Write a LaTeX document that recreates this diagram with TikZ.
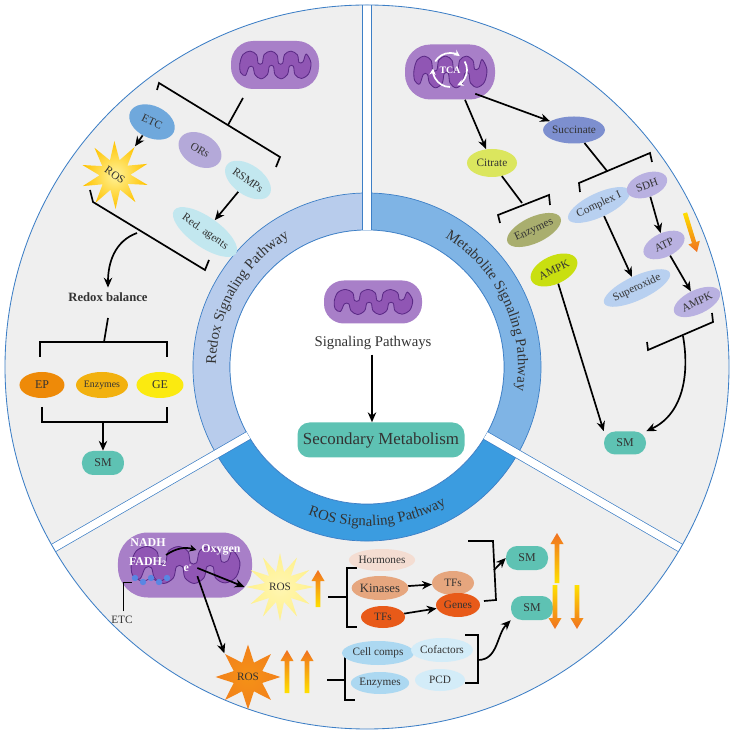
\documentclass[tikz,border=0pt]{standalone}
\usepackage{fontspec}
\setmainfont{Liberation Serif}
\usetikzlibrary{shapes.geometric,arrows.meta,calc,decorations.text}
\definecolor{bgGray}{HTML}{EFEFEF}
\definecolor{ringLine}{HTML}{3D7FC6}
\definecolor{bandL}{HTML}{B8CCEC}
\definecolor{bandR}{HTML}{7FB4E5}
\definecolor{bandB}{HTML}{3B9CE0}
\definecolor{mitoOut}{HTML}{A87FC8}
\definecolor{mitoIn}{HTML}{9056B4}
\definecolor{mitoLine}{HTML}{5B2A86}
\definecolor{cETC}{HTML}{6FA8DC}
\definecolor{cOR}{HTML}{B4A9D9}
\definecolor{cCy}{HTML}{C2E7EF}
\definecolor{cEP}{HTML}{EE8A08}
\definecolor{cEnzY}{HTML}{F2B10F}
\definecolor{cGE}{HTML}{FBEA10}
\definecolor{cTeal}{HTML}{5EC2B3}
\definecolor{cSucc}{HTML}{7D8FCF}
\definecolor{cCit}{HTML}{DBE65E}
\definecolor{cEnzO}{HTML}{A9AE6E}
\definecolor{cAMPK}{HTML}{C9DF10}
\definecolor{cCx}{HTML}{B8D0F0}
\definecolor{cLav}{HTML}{B9B1E1}
\definecolor{cHorm}{HTML}{F4DDD2}
\definecolor{cKin}{HTML}{E6A67E}
\definecolor{cTF}{HTML}{E85A19}
\definecolor{cCell}{HTML}{ACD8F1}
\definecolor{cCof}{HTML}{D3ECF8}
\definecolor{gY}{HTML}{FFE000}
\definecolor{gO}{HTML}{F07020}
\definecolor{txt}{HTML}{333333}

% inner membrane of a mitochondrion node: #1 node, #2 half width, #3 half height
\newcommand\cristae[3]{%
  \begin{scope}[shift={(#1.center)}, xscale=#2, yscale=#3]
  \draw[cristae] plot[smooth cycle, tension=0.55] coordinates {
    (-0.88,0.05) (-0.8,0.5) (-0.62,0.66) (-0.46,0.48) (-0.42,0.08) (-0.32,0.08)
    (-0.27,0.5) (-0.1,0.66) (0.05,0.48) (0.09,0.08) (0.19,0.08) (0.24,0.5)
    (0.4,0.66) (0.56,0.48) (0.6,0.12) (0.7,0.15) (0.78,0.52) (0.9,0.1)
    (0.84,-0.42) (0.66,-0.64) (0.5,-0.46) (0.46,-0.06) (0.36,-0.06) (0.31,-0.46)
    (0.15,-0.66) (0,-0.46) (-0.04,-0.06) (-0.14,-0.06) (-0.19,-0.46) (-0.35,-0.66)
    (-0.5,-0.46) (-0.55,-0.1) (-0.65,-0.1) (-0.74,-0.5) (-0.86,-0.36)};
  \end{scope}}
\newcommand\garrUp[3]{% x, bottom y, top y
  \shade[top color=gO, bottom color=gY] (#1-2.3,#2) -- (#1-2.3,#3-11) -- (#1-6.5,#3-11)
    -- (#1,#3) -- (#1+6.5,#3-11) -- (#1+2.3,#3-11) -- (#1+2.3,#2) -- cycle;}
\newcommand\garrDn[3]{% x, top y, bottom y
  \shade[top color=gY, bottom color=gO] (#1-2.3,#2) -- (#1-2.3,#3+11) -- (#1-6.5,#3+11)
    -- (#1,#3) -- (#1+6.5,#3+11) -- (#1+2.3,#3+11) -- (#1+2.3,#2) -- cycle;}

\begin{document}
\begin{tikzpicture}[x=0.025cm,y=0.025cm,
  every node/.style={font=\fontsize{8}{9.5}\selectfont, text=txt},
  el/.style n args={3}{ellipse, inner sep=0pt, minimum width=#1*0.025cm,
    minimum height=#2*0.025cm, fill=#3},
  pill/.style n args={2}{rectangle, rounded corners=0.28cm, fill=cTeal, inner sep=0pt,
    minimum width=#1*0.025cm, minimum height=#2*0.025cm},
  mito/.style n args={2}{rectangle, rounded corners=#2*0.0115cm, fill=mitoOut, inner sep=0pt,
    minimum width=#1*0.025cm, minimum height=#2*0.025cm},
  cristae/.style={draw=mitoLine, line width=0.6pt, fill=mitoIn},
  arr/.style={line width=1.2pt, -{Stealth[length=7pt,width=6pt]}},
  br/.style={line width=1.2pt},
  wtext/.style={text=white, font=\fontsize{8.5}{10}\selectfont\bfseries},
  ringtxt/.style={decorate, decoration={text along path, text align=center,
    text={|\fontsize{10.5}{12}\selectfont\color{txt}|#1}}}
]
\useasboundingbox (-367,-367) rectangle (367,367);

% ---- background disk, ring, gaps
\begin{scope}
  \clip (0,0) circle[radius=362];
  \fill[bgGray] (0,0) circle[radius=362];
  \foreach \a/\b/\c in {90/210/bandL, -30/90/bandR, 210/330/bandB}
    \filldraw[fill=\c, draw=ringLine, line width=0.5pt] (\a:137) arc[start angle=\a, end angle=\b, radius=137]
      -- (\b:174) arc[start angle=\b, end angle=\a, radius=174] -- cycle;
  \filldraw[fill=white, draw=ringLine, line width=0.5pt] (0,0) circle[radius=137];
  \foreach \a in {90,210,330}
    \draw[draw=ringLine, line width=0.5pt, double=white, double distance=0.19cm] (\a:137) -- (\a:380);
\end{scope}
\draw[ringLine, line width=0.6pt] (0,0) circle[radius=362];

\path[ringtxt={Redox Signaling Pathway}] (210:151) arc[start angle=210, end angle=90, radius=151];
\path[ringtxt={Metabolite Signaling Pathway}] (85:151) arc[start angle=85, end angle=-35, radius=151];
\path[ringtxt={ROS Signaling Pathway}] (214:159) arc[start angle=214, end angle=334, radius=159];

% ---- centre
\node[mito={98}{43}] (m0) at (6,65) {};
\cristae{m0}{44}{19}
\node[font=\fontsize{10.5}{12}\selectfont] (sp) at (6,24) {Signaling Pathways};
\node[rectangle, rounded corners=0.3cm, fill=cTeal, minimum width=167*0.025cm,
  minimum height=35*0.025cm, font=\fontsize{12}{14}\selectfont] (secm) at (14,-73) {Secondary Metabolism};
\draw[arr] (sp.south -| 5,0) -- (secm.north -| 5,0);

% ---- Redox sector
\node[mito={88}{48}] (m1) at (-92,302) {};
\cristae{m1}{40}{21}
\node[el={48}{32}{cETC}, rotate=-25] (etc) at (-215,245) {ETC};
\node[el={46}{32}{cOR}, rotate=-30] (ors) at (-167,217) {ORs};
\node[el={52}{30}{cCy}, rotate=-35] (rsmp) at (-119,187) {RSMPs};
\node[el={58}{30}{cCy}, rotate=-35] (red) at (-162,135) {Red. agents};
\node[star, star points=10, star point ratio=2.2, inner sep=0pt, minimum size=1.45cm,
  inner color=white!60!gY, outer color=gY!70!orange, rotate=-35] (rosL) at (-252,192) {ROS};
\coordinate (b1s) at (-124,269);
\draw[br] (-210,277) -- (-208,284) -- (-87,210) -- (-91,200);
\draw[br] (b1s) -- (-139,242);
\draw[arr] (etc) -- (rosL);
\draw[arr] (rsmp) -- (red);
\draw[br] (-277,177) -- (-274,165) -- (-162,97) -- (-158,107);
\coordinate (b2m) at (-230,134);
\node[font=\fontsize{9}{11}\selectfont\bfseries] (rb) at (-259,70) {Redox balance};
\draw[arr] (b2m) to[out=200, in=90] (rb.north);
\draw[br] (rb.south |- 0,49) -- (-263,25);
\draw[br] (-327,10) -- (-327,25) -- (-200,25) -- (-200,10);
\node[el={45}{26}{cEP}, font=\fontsize{8.5}{9}\selectfont] (ep) at (-325,-18) {EP};
\node[el={52}{26}{cEnzY}, font=\fontsize{7}{8}\selectfont] (enzL) at (-265,-18) {Enzymes};
\node[el={47}{26}{cGE}, font=\fontsize{8.5}{9}\selectfont] (ge) at (-207,-18) {GE};
\draw[br] (-325,-40) -- (-325,-55) -- (-200,-55) -- (-200,-40);
\coordinate (b3m) at (-264,-55);
\node[pill={42}{24}, font=\fontsize{8.5}{9}\selectfont] (smL) at (-264,-96) {SM};
\draw[arr] (b3m) -- (smL);

% ---- Metabolite sector
\node[mito={90}{55}] (m2) at (83,295) {};
\cristae{m2}{41}{24}
\node[text=white, font=\fontsize{7}{8}\selectfont\bfseries] (tca) at (83,297) {TCA};
\foreach \s in {30,150,270}
  \draw[white, line width=1.2pt, -{Stealth[length=4.5pt,width=4.5pt]}]
    ($(tca)+(\s:17)$) arc[start angle=\s, end angle=\s-95, radius=17];
\node[el={50}{28}{cCit}] (cit) at (125,204) {Citrate};
\node[el={53}{27}{cSucc}] (succ) at (207,237) {Succinate};
\draw[arr] (m2.south -| 98,0) -- (cit);
\draw[arr] ($(m2.south east)+(-20,6)$) -- (succ);
\draw[br] (cit) -- (155,164);
\draw[br] (133,144) -- (131,152) -- (182,172) -- (183,162);
\node[el={52}{26}{cEnzO}, rotate=25] (enzR) at (167,137) {Enzymes};
\node[el={50}{28}{cAMPK}, rotate=25] (ampk1) at (187,97) {AMPK};
\draw[br] (succ) -- (240,196);
\draw[br] (213,175) -- (212,184) -- (283,214) -- (285,205);
\node[el={60}{24}{cCx}, rotate=25] (cx) at (232,162) {Complex I};
\node[el={42}{24}{cLav}, rotate=20] (sdh) at (280,182) {SDH};
\node[el={44}{24}{cLav}, rotate=25] (atp) at (297,122) {ATP};
\node[el={60}{24}{cCx}, rotate=25] (sup) at (270,79) {Superoxide};
\node[el={50}{24}{cLav}, rotate=25] (ampk2) at (330,65) {AMPK};
\draw[arr] (sdh) -- (atp);
\draw[arr] (cx) -- (sup);
\draw[arr] (atp) -- (ampk2);
\shade[top color=gY, bottom color=gO] (315.9,153.35) -- (325,123.75) -- (321.4,122.6) -- (330,115)
  -- (332.8,126.2) -- (329.2,125.05) -- (320.1,154.65) -- cycle;
\draw[br] (280,25) -- (281,17) -- (346,45) -- (345,54);
\coordinate (b4m) at (316,31);
\node[pill={42}{23}, font=\fontsize{8.5}{9}\selectfont] (smR) at (258,-76) {SM};
\draw[arr] (ampk1) -- (smR.north west);
\draw[arr] (b4m) to[out=-80, in=25] (smR.north east);

% ---- ROS sector
\node[mito={134}{65}] (m3) at (-182,-198) {};
\cristae{m3}{61}{28}
\node[wtext] (nadh) at (-219,-176) {NADH};
\node[wtext] (fadh) at (-219,-195) {FADH\textsubscript{2}};
\node[wtext] (oxy) at (-146,-183) {Oxygen};
\node[wtext] (el) at (-179,-201) {e\textsuperscript{-}};
\draw[line width=1.2pt, -{Stealth[length=5pt,width=5pt]}] (-201,-188) to[bend left=25] (oxy.west);
\draw[mitoLine, line width=0.6pt] (-232,-211) -- (-224,-215) -- (-216,-211) -- (-208,-215) -- (-200,-211);
\foreach \x/\y in {-232/-211,-224/-215,-216/-211,-208/-215,-200/-211}
  \fill[cETC!80!blue] (\x,\y) circle[radius=3.2];
\node (etcB) at (-245,-253) {ETC};
\draw[line width=0.5pt] (etcB.north -| -244,0) -- (-244,-215) -- (-235,-215);
\node[star, star points=12, star point ratio=2.2, inner sep=0pt, minimum size=1.5cm,
  inner color=white!70!gY, outer color=gY!45!white] (ros1) at (-87,-220) {ROS};
\node[star, star points=8, star point ratio=2.1, inner sep=0pt, minimum size=1.6cm,
  inner color=gO!70!gY, outer color=gO!85!gY] (ros2) at (-119,-310) {ROS};
\draw[arr] (el.east) -- (ros1.west);
\draw[arr] (el.south east) -- (ros2.north west);
\garrUp{-49}{-240}{-203}
\garrUp{-80}{-326}{-283}
\garrUp{-60}{-326}{-283}
\draw[br] (-10,-201) -- (-20,-201) -- (-20,-260) -- (-10,-260);
\draw[br] (-39,-230) -- (-20,-230);
\node[el={58}{22}{cHorm}] (horm) at (15,-193) {Hormones};
\node[el={56}{24}{cKin}, font=\fontsize{9}{10}\selectfont] (kin) at (13,-221) {Kinases};
\node[el={44}{22}{cTF}] (tf1) at (16,-250) {TFs};
\node[el={42}{24}{cKin}] (tf2) at (86,-216) {TFs};
\node[el={44}{24}{cTF}] (gen) at (91,-238) {Genes};
\draw[arr] (kin) -- (tf2);
\draw[arr] (tf1) -- (gen);
\draw[br] (101,-174) -- (126,-174) -- (129,-233) -- (117,-234);
\coordinate (b5m) at (127,-203);
\node[pill={42}{24}, font=\fontsize{8.5}{9}\selectfont] (sm1) at (160,-191) {SM};
\node[pill={42}{24}, font=\fontsize{8.5}{9}\selectfont] (sm2) at (165,-241) {SM};
\draw[arr] (b5m) -- (sm1.west);
\garrUp{190}{-216}{-166}
\garrDn{188}{-218}{-262}
\garrDn{210}{-218}{-262}
\draw[br] (-12,-286) -- (-22,-286) -- (-22,-333) -- (-12,-333);
\draw[br] (-40,-313) -- (-22,-313);
\node[el={58}{24}{cCell}] (cell) at (11,-286) {Cell comps};
\node[el={58}{24}{cCof}] (cof) at (75,-283) {Cofactors};
\node[el={56}{22}{cCell}] (enzB) at (13,-316) {Enzymes};
\node[el={50}{22}{cCof}] (pcd) at (73,-313) {PCD};
\draw[br] (98,-268) -- (111,-268) -- (111,-316) -- (98,-316);
\coordinate (b6m) at (111,-293);
\draw[arr] (b6m) to[out=0, in=-135] (sm2.south west);
\end{tikzpicture}
\end{document}
